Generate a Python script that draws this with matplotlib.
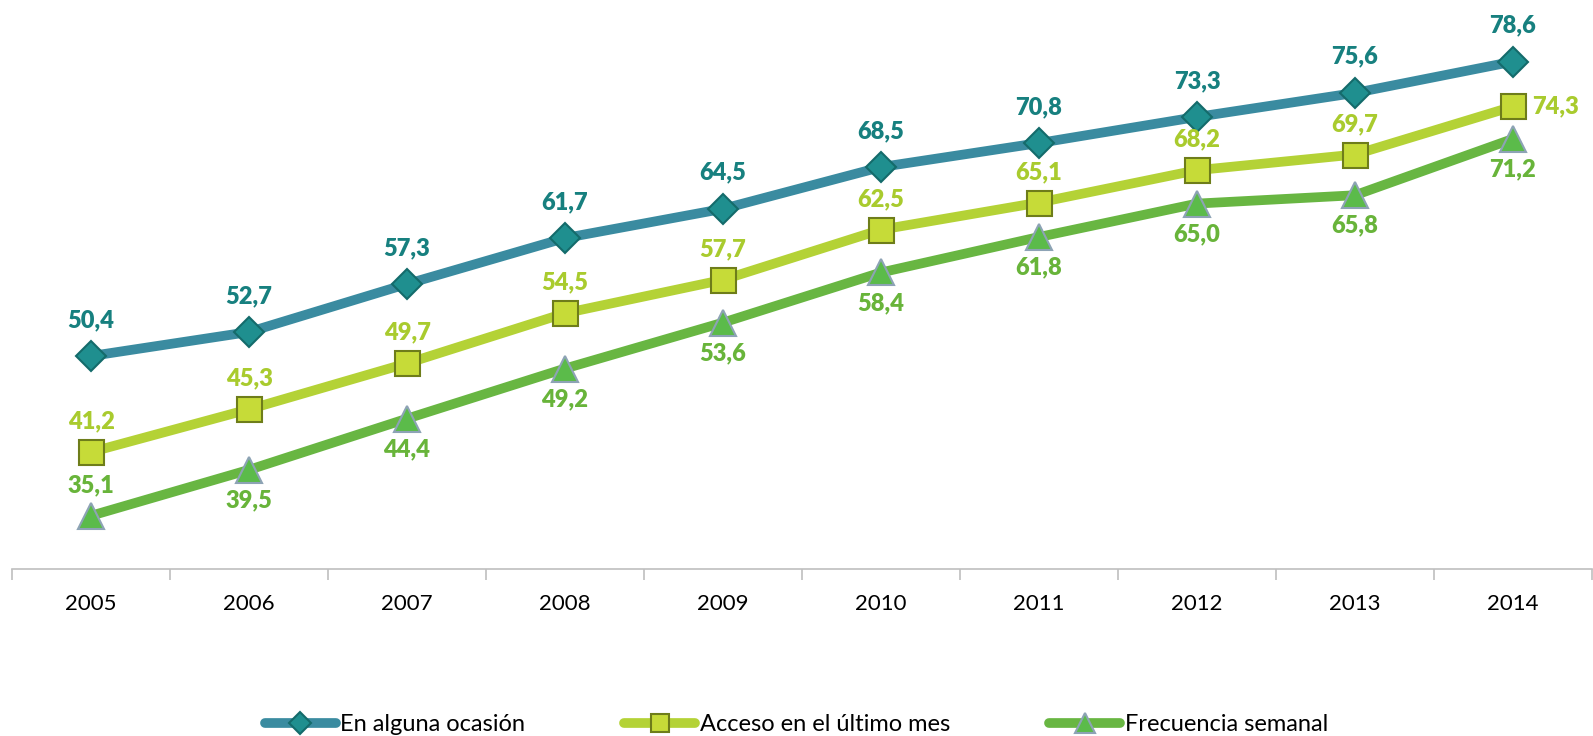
import matplotlib
matplotlib.use("Agg")
import matplotlib.pyplot as plt

# datos
years = ["2005", "2006", "2007", "2008", "2009", "2010", "2011", "2012", "2013", "2014"]
alguna_ocasion = [50.4, 52.7, 57.3, 61.7, 64.5, 68.5, 70.8, 73.3, 75.6, 78.6]
ultimo_mes = [41.2, 45.3, 49.7, 54.5, 57.7, 62.5, 65.1, 68.2, 69.7, 74.3]
semanal = [35.1, 39.5, 44.4, 49.2, 53.6, 58.4, 61.8, 65.0, 65.8, 71.2]

# posicion de etiquetas: 'a' arriba, 'b' abajo, 'r' derecha
pos_alguna = ['a'] * 10
pos_ultimo = ['a'] * 9 + ['r']
pos_semanal = ['a'] + ['b'] * 9

plt.rcParams['font.family'] = ['Lato', 'DejaVu Sans']

fig = plt.figure(figsize=(15.93, 7.36), dpi=100)
ax = fig.add_axes([12 / 1593, 167 / 736, 1580 / 1593, 569 / 736])

x = [i + 0.5 for i in range(len(years))]

series = [
    (alguna_ocasion, "En alguna ocasión", "#3A8BA0", "D", "#1F8F8F", "#146B6B", 15, "#17807F", pos_alguna, 26),
    (ultimo_mes, "Acceso en el último mes", "#B4D236", "s", "#C6DB38", "#6E7D1A", 18, "#A9CB2E", pos_ultimo, 22),
    (semanal, "Frecuencia semanal", "#68B642", "^", "#5BBB4A", "#8DA3B5", 19, "#68B43A", pos_semanal, 22),
]

for vals, label, lc, mk, mfc, mec, ms, tc, pos, dy in series:
    ax.plot(x, vals, color=lc, lw=7, marker=mk, markersize=ms,
            markerfacecolor=mfc, markeredgecolor=mec, markeredgewidth=1.5,
            label=label, solid_capstyle='round', zorder=3)
    for xi, v, p in zip(x, vals, pos):
        txt = f"{v:.1f}".replace(".", ",")
        if p == 'a':
            off, ha, va = (0, dy), 'center', 'center'
        elif p == 'b':
            off, ha, va = (0, -dy), 'center', 'center'
        else:
            off, ha, va = (14, 0), 'left', 'center'
        ax.annotate(txt, (xi, v), xytext=off, textcoords='offset points',
                    ha=ha, va=va, fontsize=17, fontweight='heavy', color=tc, zorder=4)

ax.set_xlim(0, 10)
ax.set_ylim(30, 84.5)
ax.set_yticks([])
ax.set_xticks(range(11), minor=False)
ax.set_xticklabels([])
ax.set_xticks(x, minor=True)
ax.set_xticklabels(years, minor=True, fontsize=16)
ax.tick_params(axis='x', which='major', length=8, color='#BFBFBF', width=1.2)
ax.tick_params(axis='x', which='minor', length=0, pad=18)

for s in ['top', 'right', 'left']:
    ax.spines[s].set_visible(False)
ax.spines['bottom'].set_color('#BFBFBF')
ax.spines['bottom'].set_linewidth(1.2)

fig.legend(loc='lower center', bbox_to_anchor=(0.5, -0.028), ncol=3, frameon=False,
           fontsize=17, handlelength=3.0, columnspacing=4.2, handletextpad=0.2,
           markerscale=0.75)

fig.savefig("out.png", dpi=100)
